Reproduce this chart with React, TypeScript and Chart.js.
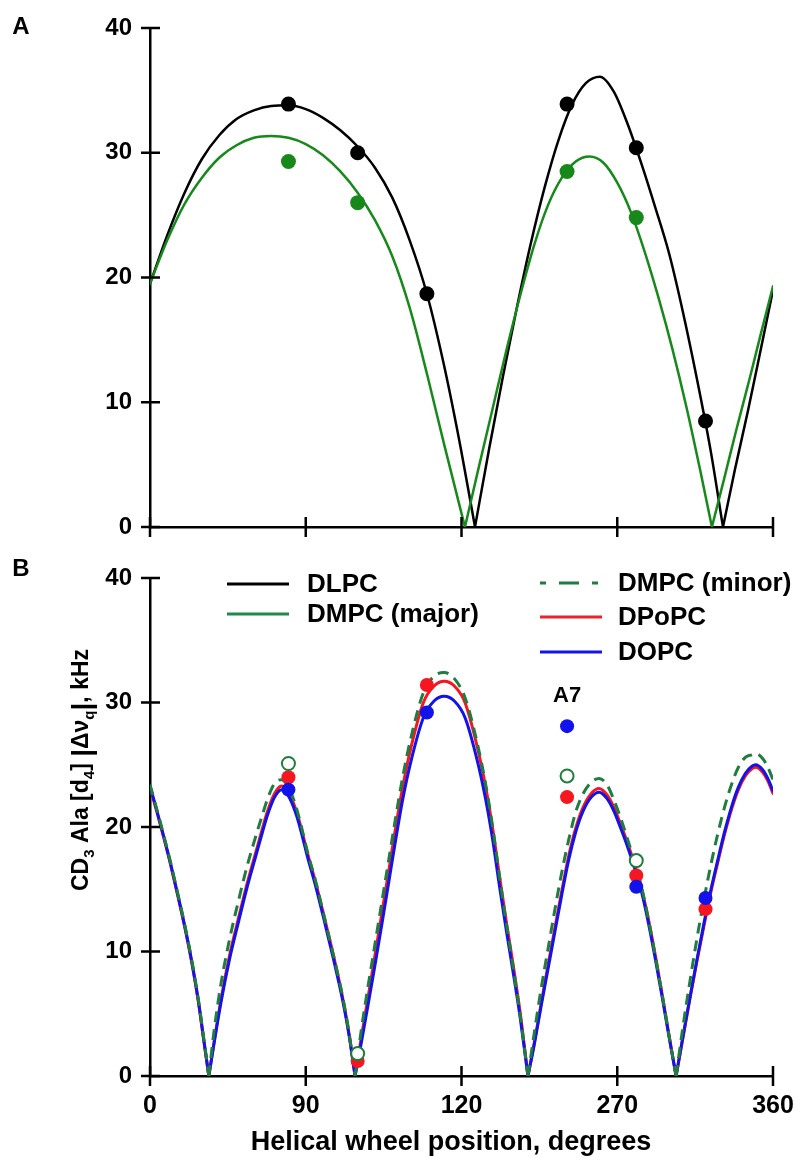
import React, { useEffect, useRef } from 'react';
import { Chart, registerables } from 'chart.js';

Chart.register(...registerables);

const FONT = "'Liberation Sans', Arial, sans-serif";

// Axis ticks
const X_TICKS = [0, 90, 180, 270, 360];
const X_TICK_LABELS = ['0', '90', '120', '270', '360'];
const Y_TICKS = [0, 10, 20, 30, 40];

// Panel A curves (degrees, kHz)
const A_DLPC_X = [0, 10, 20, 30, 40, 50, 60, 70, 80, 90, 100, 110, 120, 130, 140, 150, 160, 170, 180, 187.8, 196, 204, 212, 220, 228, 236, 244, 252, 260, 268, 276, 284, 292, 300, 308, 316, 324, 331.1, 338, 345.5, 352, 360];
const A_DLPC_Y = [19.5, 23.4, 26.8, 29.5, 31.4, 32.7, 33.4, 33.75, 33.8, 33.5, 32.8, 31.8, 30.5, 28.8, 26.4, 23.0, 18.7, 12.9, 6.0, 0, 6.3, 12.1, 17.6, 22.7, 27.2, 31.0, 33.9, 35.6, 36.1, 34.9, 32.3, 29.1, 25.6, 21.9, 17.2, 11.9, 6.1, 0, 4.6, 9.3, 13.6, 19.0];
const A_DMPC_X = [0, 10, 20, 30, 40, 50, 60, 70, 80, 90, 100, 110, 120, 130, 140, 150, 160, 170, 182, 190, 198, 206, 214, 222, 230, 238, 246, 254, 262, 270, 278, 286, 294, 302, 310, 318, 324.7, 332, 339, 346.7, 353, 360];
const A_DMPC_Y = [19.5, 23.0, 25.9, 28.0, 29.6, 30.6, 31.2, 31.35, 31.2, 30.7, 29.8, 28.5, 26.8, 24.6, 21.7, 17.6, 12.3, 6.6, 0, 4.8, 9.5, 14.2, 18.6, 22.6, 25.8, 28.0, 29.3, 29.7, 29.2, 27.6, 25.2, 22.0, 18.3, 14.2, 9.6, 4.5, 0, 4.0, 7.9, 12.0, 15.5, 19.3];

// Panel A measured points
const A_DLPC_PX = [80, 120, 160, 241, 281, 321];
const A_DLPC_PY = [33.9, 30.0, 18.7, 33.9, 30.4, 8.5];
const A_DMPC_PX = [80, 120, 241, 281];
const A_DMPC_PY = [29.3, 26.0, 28.5, 24.8];

// Panel B curves (shared positions)
const B_X = [
  0, 4, 8, 12, 16, 20, 24, 28, 31, 34,
  37, 41, 46, 51, 56, 61, 65, 68, 72, 76, 80, 84, 87, 91, 96, 101, 106, 111, 115, 118.5,
  122, 126, 130, 134, 138, 142, 146, 151, 158, 164, 170, 176, 182, 189, 194, 198, 202, 206, 210, 214, 218.4,
  222, 226, 230, 234, 238, 242, 246, 250, 255, 259.5, 264, 268, 272, 276, 280, 284, 288, 292, 296, 300, 304,
  308, 312, 316, 320, 324, 328, 332, 336, 340, 344, 348, 350, 354, 357, 360,
];
const B_DOPC_Y = [
  23.3, 21.3, 19.2, 17.0, 14.6, 12.1, 9.3, 6.0, 3.0, 0,
  2.6, 5.9, 9.4, 12.3, 15.1, 17.6, 19.6, 21.0, 22.4, 23.0, 22.5, 21.2, 19.8, 17.6, 15.1, 12.3, 9.4, 6.3, 3.3, 0,
  2.6, 5.7, 8.9, 12.2, 15.6, 19.0, 22.2, 25.4, 28.8, 30.1, 30.5, 30.1, 28.8, 25.4, 22.2, 19.0, 15.2, 11.6, 8.2, 4.6, 0,
  2.5, 5.6, 8.6, 11.6, 14.6, 17.4, 19.6, 21.2, 22.4, 22.8, 22.3, 21.3, 19.9, 18.4, 16.7, 14.8, 12.3, 9.4, 6.3, 3.1, 0,
  3.2, 6.3, 9.3, 12.2, 14.9, 17.3, 19.6, 21.6, 23.2, 24.3, 24.9, 25.0, 24.6, 23.9, 22.9,
];
const B_DPOPC_Y = [
  23.2, 21.2, 19.1, 16.9, 14.5, 12.0, 9.2, 5.9, 2.9, 0,
  2.7, 6.1, 9.7, 12.6, 15.4, 17.9, 19.9, 21.3, 22.7, 23.3, 22.8, 21.5, 20.1, 17.9, 15.4, 12.6, 9.7, 6.5, 3.4, 0,
  3.0, 6.3, 9.7, 13.1, 16.5, 20.0, 23.2, 26.5, 30.0, 31.3, 31.7, 31.3, 30.0, 26.5, 23.2, 19.9, 16.0, 12.3, 8.8, 5.0, 0,
  2.6, 5.8, 8.9, 11.9, 14.9, 17.7, 19.9, 21.5, 22.7, 23.1, 22.6, 21.6, 20.2, 18.7, 17.0, 15.1, 12.6, 9.7, 6.5, 3.2, 0,
  3.1, 6.2, 9.2, 12.0, 14.7, 17.1, 19.4, 21.4, 23.0, 24.1, 24.7, 24.8, 24.4, 23.7, 22.7,
];
const B_DMPC_MINOR_Y = [
  23.4, 21.4, 19.3, 17.1, 14.7, 12.2, 9.4, 6.1, 3.1, 0,
  3.6, 7.4, 11.0, 14.0, 16.8, 19.2, 21.0, 22.3, 23.5, 23.8, 23.2, 21.8, 20.3, 18.0, 15.5, 12.6, 9.7, 6.6, 3.5, 0,
  3.6, 7.2, 10.6, 14.0, 17.4, 20.8, 24.0, 27.3, 30.8, 32.1, 32.4, 31.9, 30.4, 26.8, 23.4, 20.0, 16.0, 12.2, 8.6, 4.8, 0,
  3.4, 7.0, 10.2, 13.4, 16.4, 19.0, 21.2, 22.6, 23.6, 23.9, 23.4, 22.2, 20.7, 19.0, 17.2, 15.2, 12.6, 9.6, 6.5, 3.2, 0,
  4.0, 7.6, 11.0, 14.1, 16.9, 19.4, 21.6, 23.4, 24.8, 25.6, 25.8, 25.9, 25.5, 24.8, 23.8,
];

// Panel B measured points
const B_MINOR_PX = [80, 120, 241, 281];
const B_MINOR_PY = [25.1, 1.8, 24.1, 17.3];
const B_DPOPC_PX = [80, 120, 160, 241, 281, 321];
const B_DPOPC_PY = [24.0, 1.2, 31.4, 22.4, 16.1, 13.4];
const B_DOPC_PX = [80, 160, 241, 281, 321];
const B_DOPC_PY = [23.0, 29.2, 28.1, 15.2, 14.3];

// Legend
const LEGEND_LABELS = ['DLPC', 'DMPC (major)', 'DMPC (minor)', 'DPoPC', 'DOPC'];
const LEGEND_COLORS = ['#000000', '#1d8a4a', '#1f7d3f', '#f0202e', '#1414e6'];
const LEGEND_DASHED = [false, false, true, false, false];

const C_BLACK = '#000000';
const C_GREEN_A = '#17891b';
const C_GREEN_MINOR = '#1f7d3f';
const C_RED = '#f5161f';
const C_BLUE = '#1212ea';

// Split the line at each zero so every arch is its own smooth piece and the V stays sharp.
function curve(xs: number[], ys: number[]) {
  const out: { x: number; y: number | null }[] = [];
  xs.forEach((x, i) => {
    out.push({ x, y: ys[i] });
    if (ys[i] === 0 && i > 0 && i < xs.length - 1) {
      out.push({ x, y: null });
      out.push({ x, y: ys[i] });
    }
  });
  return out;
}
function pts(xs: number[], ys: number[]) {
  return xs.map((x, i) => ({ x, y: ys[i] }));
}

function makeScales(xHeight: number, showXLabels: boolean) {
  return {
    x: {
      type: 'linear',
      min: 0,
      max: 360,
      afterBuildTicks: (s: any) => {
        s.ticks = X_TICKS.map((v) => ({ value: v }));
      },
      ticks: {
        display: showXLabels,
        autoSkip: false,
        maxRotation: 0,
        padding: 0,
        color: '#000',
        font: { family: FONT, size: 25, weight: 'bold' },
        callback: (v: any) => X_TICK_LABELS[X_TICKS.indexOf(Number(v))],
      },
      grid: { display: false, drawTicks: true, tickLength: 15 },
      border: { display: true, color: '#000', width: 2.5 },
      afterFit: (s: any) => {
        s.height = xHeight;
      },
    },
    y: {
      min: 0,
      max: 40,
      afterBuildTicks: (s: any) => {
        s.ticks = Y_TICKS.map((v) => ({ value: v }));
      },
      ticks: {
        padding: 0,
        color: '#000',
        font: { family: FONT, size: 24, weight: 'bold' },
        callback: (v: any) => String(v),
      },
      grid: { display: false, drawTicks: true, tickLength: 18 },
      border: { display: true, color: '#000', width: 2.5 },
      afterFit: (s: any) => {
        s.width = 150;
      },
    },
  };
}

const crossTicks = {
  id: 'crossTicks',
  afterDatasetsDraw(chart: any) {
    const { ctx, chartArea, scales } = chart;
    ctx.save();
    ctx.strokeStyle = '#000';
    ctx.lineWidth = 2.5;
    ctx.beginPath();
    X_TICKS.forEach((v) => {
      const px = scales.x.getPixelForValue(v);
      ctx.moveTo(px, chartArea.bottom - 10);
      ctx.lineTo(px, chartArea.bottom + 10);
    });
    Y_TICKS.forEach((v) => {
      const py = scales.y.getPixelForValue(v);
      ctx.moveTo(chartArea.left - 9, py);
      ctx.lineTo(chartArea.left + 10, py);
    });
    ctx.stroke();
    ctx.restore();
  },
};

function drawText(ctx: CanvasRenderingContext2D, text: string, x: number, y: number, size: number, align: CanvasTextAlign = 'left') {
  ctx.font = `bold ${size}px ${FONT}`;
  ctx.fillStyle = '#000';
  ctx.textAlign = align;
  ctx.textBaseline = 'middle';
  ctx.fillText(text, x, y);
}

const panelAText = {
  id: 'panelAText',
  afterDraw(chart: any) {
    const { ctx } = chart;
    ctx.save();
    drawText(ctx, 'A', 21, 27, 24, 'center');
    ctx.restore();
  },
};

const panelBText = {
  id: 'panelBText',
  afterDraw(chart: any) {
    const { ctx } = chart;
    ctx.save();
    drawText(ctx, 'B', 21, 14, 24, 'center');
    // legend
    const rows = [
      { lx: 227, tx: 307, y: 29 },
      { lx: 227, tx: 307, y: 59 },
      { lx: 540, tx: 618, y: 28 },
      { lx: 540, tx: 618, y: 62 },
      { lx: 540, tx: 618, y: 97 },
    ];
    LEGEND_LABELS.forEach((label, i) => {
      const r = rows[i];
      ctx.save();
      ctx.strokeStyle = LEGEND_COLORS[i];
      ctx.lineWidth = 3;
      if (LEGEND_DASHED[i]) ctx.setLineDash([6, 13, 20, 13, 6]);
      ctx.beginPath();
      ctx.moveTo(r.lx, r.y);
      ctx.lineTo(r.lx + 62, r.y);
      ctx.stroke();
      ctx.restore();
      drawText(ctx, label, r.tx, r.y + 1, 26, 'left');
    });
    // A7 label
    const xA7 = chart.scales.x.getPixelForValue(241);
    drawText(ctx, 'A7', xA7, 141, 22, 'center');
    // x title
    drawText(ctx, 'Helical wheel position, degrees', 451, 588, 27, 'center');
    // y title with subscripts; the absolute-value bars are drawn taller
    const segs: [string, string][] = [
      ['CD', 'm'], ['3', 's'], [' Ala [d', 'm'], ['4', 's'], ['] ', 'm'],
      ['|', 'b'], ['Δν', 'm'], ['q', 's'], ['|', 'b'], [', kHz', 'm'],
    ];
    const fonts: Record<string, string> = {
      m: `bold 23px ${FONT}`,
      s: `bold 15px ${FONT}`,
      b: `bold 28px ${FONT}`,
    };
    const offs: Record<string, number> = { m: 0, s: 8, b: 1 };
    let total = 0;
    segs.forEach(([t, k]) => {
      ctx.font = fonts[k];
      total += ctx.measureText(t).width;
    });
    ctx.translate(82, 215);
    ctx.rotate(-Math.PI / 2);
    ctx.fillStyle = '#000';
    ctx.textAlign = 'left';
    ctx.textBaseline = 'middle';
    let cx = -total / 2;
    segs.forEach(([t, k]) => {
      ctx.font = fonts[k];
      ctx.fillText(t, cx, offs[k]);
      cx += ctx.measureText(t).width;
    });
    ctx.restore();
  },
};

const lineStyle = {
  pointRadius: 0,
  cubicInterpolationMode: 'monotone',
  borderCapStyle: 'round',
  borderJoinStyle: 'round',
  spanGaps: false,
  fill: false,
};

export default function App() {
  const refA = useRef<HTMLCanvasElement>(null);
  const refB = useRef<HTMLCanvasElement>(null);

  useEffect(() => {
    const chartA = new Chart(refA.current as HTMLCanvasElement, {
      type: 'line',
      data: {
        datasets: [
          { label: 'DLPC pts', data: pts(A_DLPC_PX, A_DLPC_PY), showLine: false, pointRadius: 7.5, pointBackgroundColor: C_BLACK, pointBorderWidth: 0, order: 0 },
          { label: 'DMPC pts', data: pts(A_DMPC_PX, A_DMPC_PY), showLine: false, pointRadius: 7.5, pointBackgroundColor: C_GREEN_A, pointBorderWidth: 0, order: 0 },
          { label: 'DMPC (major)', data: curve(A_DMPC_X, A_DMPC_Y), borderColor: C_GREEN_A, borderWidth: 2.5, ...lineStyle, order: 1 },
          { label: 'DLPC', data: curve(A_DLPC_X, A_DLPC_Y), borderColor: C_BLACK, borderWidth: 2.5, ...lineStyle, order: 2 },
        ],
      } as any,
      options: {
        animation: false,
        responsive: false,
        devicePixelRatio: 1,
        layout: { padding: { top: 28, right: 30, left: 0, bottom: 0 } },
        plugins: { legend: { display: false }, tooltip: { enabled: false } },
        scales: makeScales(28, false) as any,
      },
      plugins: [crossTicks, panelAText],
    });

    const chartB = new Chart(refB.current as HTMLCanvasElement, {
      type: 'line',
      data: {
        datasets: [
          { label: 'DMPC (minor) pts', data: pts(B_MINOR_PX, B_MINOR_PY), showLine: false, pointRadius: 6.5, pointBackgroundColor: '#ffffff', pointBorderColor: C_GREEN_MINOR, pointBorderWidth: 2, order: 0 },
          { label: 'DOPC pts', data: pts(B_DOPC_PX, B_DOPC_PY), showLine: false, pointRadius: 7, pointBackgroundColor: C_BLUE, pointBorderWidth: 0, order: 1 },
          { label: 'DPoPC pts', data: pts(B_DPOPC_PX, B_DPOPC_PY), showLine: false, pointRadius: 7, pointBackgroundColor: C_RED, pointBorderWidth: 0, order: 2 },
          { label: 'DMPC (minor)', data: curve(B_X, B_DMPC_MINOR_Y), borderColor: C_GREEN_MINOR, borderWidth: 3, borderDash: [11, 7], ...lineStyle, borderCapStyle: 'butt', order: 3 },
          { label: 'DOPC', data: curve(B_X, B_DOPC_Y), borderColor: C_BLUE, borderWidth: 3, ...lineStyle, order: 4 },
          { label: 'DPoPC', data: curve(B_X, B_DPOPC_Y), borderColor: C_RED, borderWidth: 3, ...lineStyle, order: 5 },
        ],
      } as any,
      options: {
        animation: false,
        responsive: false,
        devicePixelRatio: 1,
        layout: { padding: { top: 23, right: 30, left: 0, bottom: 0 } },
        plugins: { legend: { display: false }, tooltip: { enabled: false } },
        scales: makeScales(82, true) as any,
      },
      plugins: [crossTicks, panelBText],
    });

    return () => {
      chartA.destroy();
      chartB.destroy();
    };
  }, []);

  return (
    <div style={{ position: 'absolute', left: 0, top: 0, width: 803, height: 1158, background: '#ffffff' }}>
      <canvas ref={refA} width={803} height={555} style={{ position: 'absolute', left: 0, top: 0, width: 803, height: 555 }} />
      <canvas ref={refB} width={803} height={603} style={{ position: 'absolute', left: 0, top: 555, width: 803, height: 603 }} />
    </div>
  );
}
